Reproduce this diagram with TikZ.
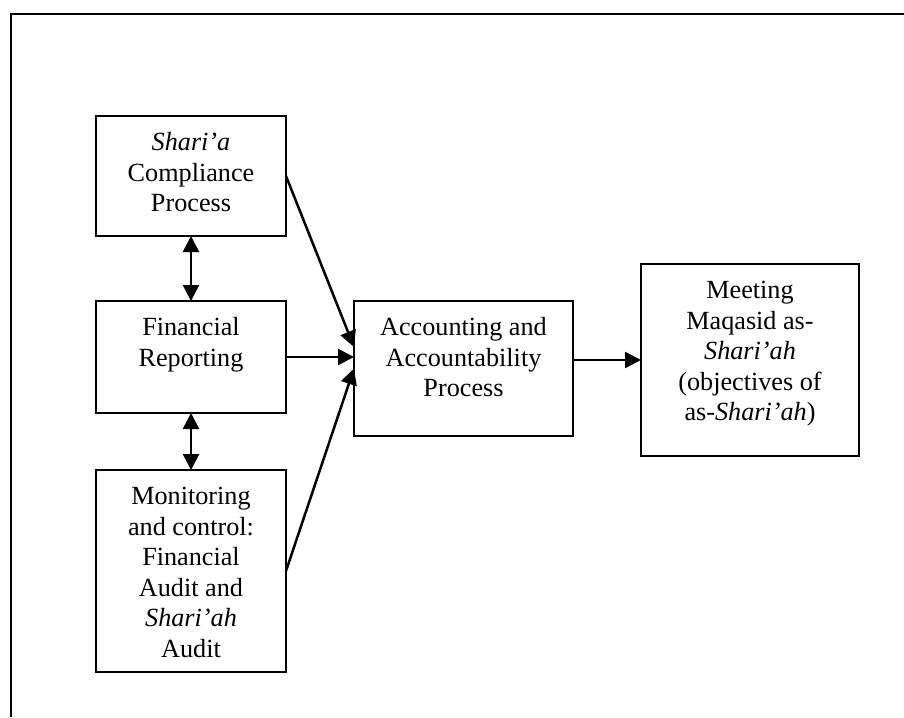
\documentclass[tikz,border=0pt]{standalone}
\usepackage{fontspec}
\setmainfont{Liberation Serif}
\usetikzlibrary{arrows.meta,positioning}
\begin{document}
\begin{tikzpicture}[x=0.5pt,y=-0.5pt,
  frame/.style={line width=1pt},
  box/.style={draw,line width=1pt,rectangle,inner sep=0pt,outer sep=0pt},
  txt/.style={inner sep=0pt,outer sep=0pt,align=center,
    font=\fontsize{13.1pt}{15.3pt}\selectfont},
  tip/.style={Triangle[length=8pt,width=8pt]},
  arr/.style={line width=1.25pt,-{Triangle[length=8pt,width=8pt]}},
  dbl/.style={line width=1.25pt,{Triangle[length=8pt,width=8pt]}-{Triangle[length=8pt,width=8pt]}}]
\useasboundingbox (0,0) rectangle (904,717);

% open frame: top and left edges only
\coordinate (fbl) at (11,717);
\coordinate (ftl) at (11,14);
\coordinate (ftr) at (904,14);
\draw[frame] (fbl) -- (ftl) -- (ftr);

% boxes
\node[box,minimum width=95pt,minimum height=60pt]   (S)    at (191,176)   {};
\node[box,minimum width=95pt,minimum height=56pt]   (FR)   at (191,357)   {};
\node[box,minimum width=95pt,minimum height=101pt]  (MC)   at (191,571)   {};
\node[box,minimum width=109.5pt,minimum height=67.5pt] (Acc) at (463.5,368.5) {};
\node[box,minimum width=109pt,minimum height=96pt]  (Meet) at (750,360)   {};

% box texts, set from the top of each box
\node[txt,anchor=north,below=6.5pt of S.north] (St)
  {\strut\textit{Shari’a}\\Compliance\\Process};
\node[txt,anchor=north,below=6.5pt of FR.north] (FRt)
  {\strut Financial\\Reporting};
\node[txt,anchor=north,below=6.5pt of MC.north] (MCt)
  {\strut Monitoring\\and control:\\Financial\\Audit and\\\textit{Shari’ah}\\Audit};
\node[txt,anchor=north,below=6.5pt of Acc.north] (Acct)
  {\strut Accounting and\\Accountability\\Process};
\node[txt,anchor=north,below=6.5pt of Meet.north] (Meett)
  {\strut Meeting\\Maqasid as-\\\textit{Shari’ah}\\(objectives of\\as-\textit{Shari’ah})};

% connectors
\draw[dbl] (S.south) -- (FR.north);
\draw[dbl] (FR.south) -- (MC.north);
\draw[arr] (S.east) -- ([yshift=10.75pt]Acc.west);
\draw[arr] (FR.east) -- (FR.east -| Acc.west);
\draw[arr] (MC.east) -- (Acc.west);
\draw[arr] (Acc.east |- Meet.west) -- (Meet.west);
\end{tikzpicture}
\end{document}
